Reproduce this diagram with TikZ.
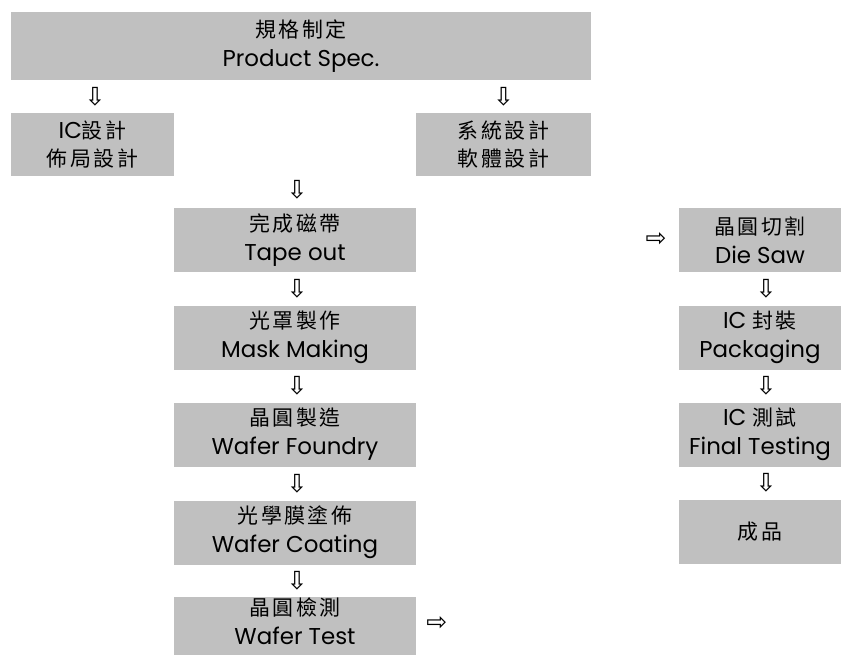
\documentclass[tikz,border=0pt]{standalone}
\usepackage{fontspec}
\setmainfont{Poppins}
\newfontfamily\cjk[LetterSpace=12]{Noto Sans CJK TC}
\newfontfamily\symfont{DejaVu Sans}
\usetikzlibrary{calc}
\definecolor{boxgray}{RGB}{192,192,192}
\tikzset{
  box/.style={fill=boxgray, draw=none, inner sep=0pt, align=center,
    font=\fontsize{23}{29}\selectfont},
  midbox/.style={box, minimum width=242bp, minimum height=64bp},
  rbox/.style={box, minimum width=162bp, minimum height=64bp},
  darr/.style={font=\symfont\fontsize{25}{25}\selectfont, inner sep=0pt},
}
\newcommand{\zh}[1]{{\fontsize{21}{29}\cjk #1}}
\begin{document}
\begin{tikzpicture}[x=1bp,y=-1bp]
\useasboundingbox (0,0) rectangle (842,655);
% top
\node[box, minimum width=580bp, minimum height=68bp] (spec) at (301,46) {\zh{規格制定}\\Product Spec.};
\node[box, minimum width=163bp, minimum height=63bp] (ic) at (92.5,144.5) {IC\zh{設計}\\\zh{佈局設計}};
\node[box, minimum width=175bp, minimum height=63bp] (sys) at (503.5,144.5) {\zh{系統設計}\\\zh{軟體設計}};
% middle column
\node[midbox] (tape) at (295,240) {\zh{完成磁帶}\\Tape out};
\node[midbox] (mask) at (295,337.5) {\zh{光罩製作}\\Mask Making};
\node[midbox] (foundry) at (295,434.5) {\zh{晶圓製造}\\Wafer Foundry};
\node[midbox] (coat) at (295,532.5) {\zh{光學膜塗佈}\\Wafer Coating};
\node[midbox, minimum height=58bp] (test) at (295,626) {\zh{晶圓檢測}\\Wafer Test\rule[-9bp]{0pt}{0pt}};
% right column
\node[rbox] (saw) at (760,240) {\zh{晶圓切割}\\Die Saw};
\node[rbox] (pack) at (760,337.5) {IC \zh{封裝}\\Packaging};
\node[rbox] (final) at (760,434.5) {IC \zh{測試}\\Final Testing};
\node[rbox] (prod) at (760,531.5) {\zh{成品}};
% arrows
\node[darr, xshift=2.5bp] (a1) at ($(ic.north)!0.5!(ic.north |- spec.south)$) {⇩};
\node[darr] (a2) at ($(sys.north)!0.5!(sys.north |- spec.south)$) {⇩};
\node[darr, xshift=2bp, yshift=2bp] (a3) at ($(tape.north)!0.5!(tape.north |- ic.south)$) {⇩};
\node[darr, xshift=2bp] (a4) at ($(tape.south)!0.5!(mask.north)$) {⇩};
\node[darr, xshift=2bp] (a5) at ($(mask.south)!0.5!(foundry.north)$) {⇩};
\node[darr, xshift=2bp] (a6) at ($(foundry.south)!0.5!(coat.north)$) {⇩};
\node[darr, xshift=2bp] (a7) at ($(coat.south)!0.5!(test.north)$) {⇩};
\node[darr, anchor=west, xshift=10bp, yshift=2bp] (a8) at (test.east) {⇨};
\node[darr, anchor=east, xshift=-12bp] (a9) at (saw.west) {⇨};
\node[darr, xshift=6bp] (a10) at ($(saw.south)!0.5!(pack.north)$) {⇩};
\node[darr, xshift=6bp] (a11) at ($(pack.south)!0.5!(final.north)$) {⇩};
\node[darr, xshift=6bp] (a12) at ($(final.south)!0.5!(prod.north)$) {⇩};
\end{tikzpicture}
\end{document}
